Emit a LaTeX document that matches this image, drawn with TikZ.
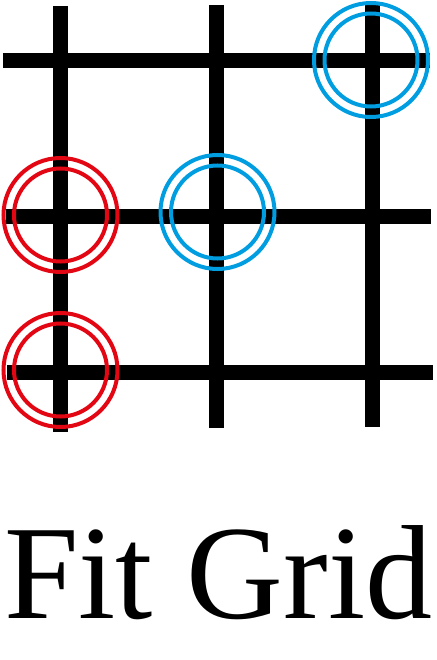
\documentclass[tikz,border=0pt]{standalone}
\usepackage{fontspec}
\setmainfont{Liberation Serif}
\definecolor{ringred}{RGB}{227,6,19}
\definecolor{ringblue}{RGB}{0,158,224}
\begin{document}
\begin{tikzpicture}[x=1pt,y=-1pt,
  gridline/.style={line width=15pt,black},
  ring/.style={line width=4pt}]
\useasboundingbox (0,0) rectangle (436,660);
% vertical lines
\draw[gridline] (60.5,6) -- (60.5,432);
\draw[gridline] (216.5,5) -- (216.5,428);
\draw[gridline] (372.5,3) -- (372.5,427);
% horizontal lines
\draw[gridline] (3,60.5) -- (430,60.5);
\draw[gridline] (6,216.5) -- (431,216.5);
\draw[gridline] (7,372.5) -- (433,372.5);
% rings
\foreach \cx/\cy/\col in {60.5/215/ringred, 60.5/370/ringred, 217.5/212/ringblue, 371/60/ringblue}{
  \draw[ring,\col] (\cx,\cy) circle[radius=57];
  \draw[ring,\col] (\cx,\cy) circle[radius=46.5];
}
\node[anchor=base west,inner sep=0pt,font=\fontsize{134}{134}\selectfont] (title) at (4,618) {Fit Grid};
\end{tikzpicture}
\end{document}
